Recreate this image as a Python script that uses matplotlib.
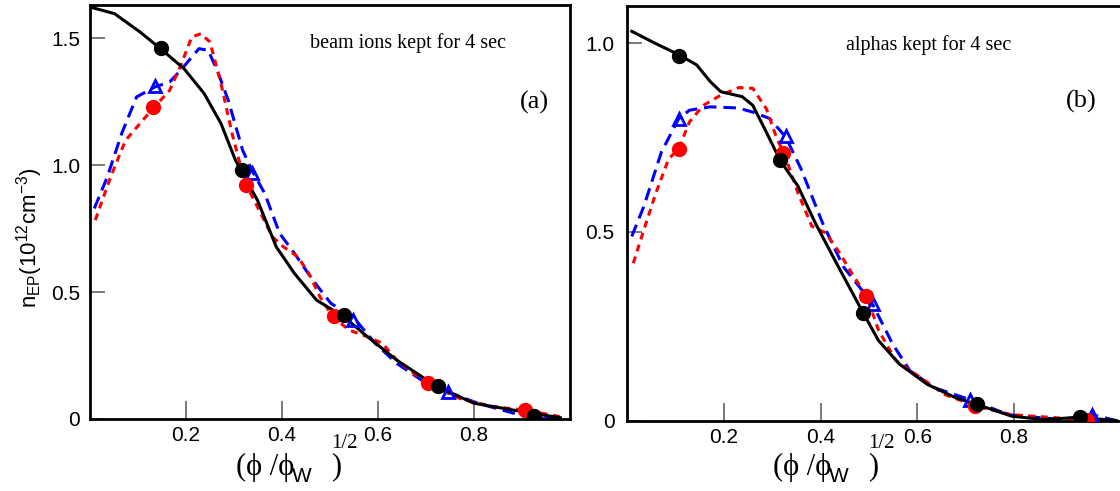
import numpy as np
import matplotlib.pyplot as plt

plt.rcParams['font.family'] = ['Liberation Sans', 'DejaVu Sans']
plt.rcParams['mathtext.default'] = 'regular'
plt.rcParams['lines.scale_dashes'] = False

# ---- panel (a): beam ions ----
a_blk_x = [0.0, 0.051, 0.104, 0.147, 0.196, 0.238, 0.273, 0.303, 0.314, 0.349, 0.388, 0.426,
           0.472, 0.529, 0.578, 0.639, 0.723, 0.80, 0.922, 0.98]
a_blk_y = [1.622, 1.596, 1.524, 1.458, 1.379, 1.281, 1.163, 1.019, 0.98, 0.861, 0.678, 0.573,
           0.468, 0.402, 0.324, 0.232, 0.127, 0.062, 0.022, 0.005]
a_red_x = [0.011, 0.043, 0.074, 0.104, 0.131, 0.166, 0.189, 0.212, 0.231, 0.25, 0.273, 0.296,
           0.314, 0.326, 0.349, 0.38, 0.403, 0.433, 0.456, 0.479, 0.506, 0.54, 0.578, 0.609,
           0.639, 0.701, 0.77, 0.838, 0.907, 0.98]
a_red_y = [0.783, 0.953, 1.097, 1.163, 1.222, 1.294, 1.392, 1.504, 1.517, 1.484, 1.32, 1.124,
           0.993, 0.92, 0.835, 0.717, 0.678, 0.639, 0.573, 0.481, 0.402, 0.35, 0.324, 0.298,
           0.232, 0.14, 0.081, 0.049, 0.035, 0.009]
a_blu_x = [0.009, 0.036, 0.066, 0.097, 0.135, 0.166, 0.189, 0.212, 0.227, 0.246, 0.265, 0.288,
           0.318, 0.337, 0.364, 0.395, 0.426, 0.464, 0.502, 0.548, 0.594, 0.639, 0.701, 0.743,
           0.808, 0.884, 0.926, 0.98]
a_blu_y = [0.829, 0.953, 1.124, 1.268, 1.307, 1.327, 1.373, 1.425, 1.458, 1.452, 1.373, 1.255,
           1.058, 0.98, 0.888, 0.731, 0.652, 0.547, 0.455, 0.402, 0.298, 0.219, 0.14, 0.108,
           0.062, 0.022, 0.0, 0.003]
a_blk_mx = [0.147, 0.316, 0.53, 0.725, 0.925]
a_blk_my = [1.46, 0.98, 0.41, 0.13, 0.01]
a_red_mx = [0.131, 0.326, 0.508, 0.705, 0.907]
a_red_my = [1.23, 0.92, 0.405, 0.14, 0.035]
a_blu_mx = [0.135, 0.337, 0.548, 0.745, 0.928]
a_blu_my = [1.31, 0.97, 0.39, 0.105, 0.0]

# ---- panel (b): alphas ----
b_blk_x = [0.0098, 0.057, 0.107, 0.144, 0.172, 0.194, 0.238, 0.26, 0.288, 0.317, 0.353, 0.389,
           0.433, 0.487, 0.52, 0.563, 0.621, 0.679, 0.723, 0.795, 0.86, 0.936, 1.012]
b_blk_y = [1.031, 1.0, 0.969, 0.942, 0.898, 0.871, 0.858, 0.835, 0.764, 0.688, 0.622, 0.524,
           0.417, 0.288, 0.212, 0.15, 0.096, 0.061, 0.043, 0.012, 0.003, 0.009, 0.0]
b_red_x = [0.013, 0.035, 0.06, 0.086, 0.107, 0.129, 0.158, 0.194, 0.231, 0.26, 0.288, 0.31,
           0.324, 0.353, 0.382, 0.411, 0.44, 0.469, 0.495, 0.52, 0.556, 0.607, 0.657, 0.723,
           0.795, 0.896, 0.95, 1.012]
b_red_y = [0.417, 0.506, 0.604, 0.693, 0.72, 0.791, 0.835, 0.862, 0.882, 0.88, 0.826, 0.746,
           0.711, 0.604, 0.515, 0.497, 0.443, 0.381, 0.332, 0.239, 0.159, 0.114, 0.069, 0.038,
           0.016, 0.007, 0.003, 0.0]
b_blu_x = [0.0098, 0.035, 0.071, 0.107, 0.129, 0.172, 0.23, 0.26, 0.295, 0.328, 0.36, 0.404,
           0.447, 0.491, 0.509, 0.549, 0.585, 0.636, 0.708, 0.788, 0.896, 0.961, 1.012]
b_blu_y = [0.488, 0.568, 0.711, 0.8, 0.822, 0.831, 0.828, 0.817, 0.8, 0.751, 0.666, 0.524,
           0.408, 0.337, 0.305, 0.203, 0.132, 0.087, 0.056, 0.016, 0.003, 0.016, 0.0]
b_blk_mx = [0.107, 0.317, 0.487, 0.723, 0.936]
b_blk_my = [0.965, 0.69, 0.285, 0.045, 0.01]
b_red_mx = [0.107, 0.323, 0.495, 0.72, 0.95]
b_red_my = [0.72, 0.71, 0.33, 0.04, 0.003]
b_blu_mx = [0.107, 0.328, 0.509, 0.708, 0.961]
b_blu_my = [0.80, 0.755, 0.31, 0.055, 0.016]

xticks = [0.2, 0.4, 0.6, 0.8]
xticklabels = ['0.2', '0.4', '0.6', '0.8']
a_yticks = [0, 0.5, 1.0, 1.5]
a_yticklabels = ['0', '0.5', '1.0', '1.5']
b_yticks = [0, 0.5, 1.0]
b_yticklabels = ['0', '0.5', '1.0']

RED = '#ff0000'
BLUE = '#0000ff'

fig = plt.figure(figsize=(11.2, 4.91), dpi=100)
W, H = 1120.0, 491.0
axa = fig.add_axes([90 / W, 1 - 419 / H, 480 / W, 414 / H])
axb = fig.add_axes([627 / W, 1 - 420.7 / H, 493 / W, 414.7 / H])


def draw(ax, bx, by, rx, ry, kx, ky, bmx, bmy, rmx, rmy, kmx, kmy):
    ax.plot(bx, by, color=BLUE, lw=2.2, dashes=(9, 5), zorder=2)
    ax.plot(rx, ry, color=RED, lw=2.2, dashes=(5, 4), zorder=3)
    ax.plot(kx, ky, color='black', lw=2.2, zorder=4)
    ax.plot(bmx, bmy, ls='none', marker='^', ms=8, mfc='none', mec=BLUE, mew=2, zorder=5)
    ax.plot(rmx, rmy, ls='none', marker='o', ms=10, color=RED, zorder=5)
    ax.plot(kmx, kmy, ls='none', marker='o', ms=10, color='black', zorder=6)
    ax.set_xticks(xticks)
    ax.set_xticklabels(xticklabels)
    ax.tick_params(axis='x', direction='in', length=13, width=1.1, color='#555555',
                   labelsize=15, pad=5)
    ax.tick_params(axis='y', direction='in', length=11, width=1.1, color='#555555',
                   labelsize=15, pad=7)
    for s in ax.spines.values():
        s.set_linewidth(2)


draw(axa, a_blu_x, a_blu_y, a_red_x, a_red_y, a_blk_x, a_blk_y,
     a_blu_mx, a_blu_my, a_red_mx, a_red_my, a_blk_mx, a_blk_my)
axa.set_xlim(0, 1.0)
axa.set_ylim(0, 1.63)
axa.set_yticks(a_yticks)
axa.set_yticklabels(a_yticklabels)
axa.text(0.458, 1.48, 'beam ions kept for 4 sec', family='Liberation Serif', fontsize=14.5,
         va='center', ha='left')
axa.text(0.895, 1.248, '(a)', family='Liberation Serif', fontsize=19, va='center', ha='left')

draw(axb, b_blu_x, b_blu_y, b_red_x, b_red_y, b_blk_x, b_blk_y,
     b_blu_mx, b_blu_my, b_red_mx, b_red_my, b_blk_mx, b_blk_my)
axb.set_xlim(0, 1.019)
axb.set_ylim(0, 1.098)
axb.set_yticks(b_yticks)
axb.set_yticklabels(b_yticklabels)
axb.tick_params(axis='y', pad=9)
axb.spines['right'].set_visible(False)
axb.text(0.452, 0.995, 'alphas kept for 4 sec', family='Liberation Serif', fontsize=14.5,
         va='center', ha='left')
axb.text(0.907, 0.844, '(b)', family='Liberation Serif', fontsize=19, va='center', ha='left')

# y label
fig.text(30 / W, 1 - 238 / H, r'n$_{EP}$(10$^{12}$cm$^{-3}$)', rotation=90,
         fontsize=16, ha='center', va='center')

# x labels
for x0 in (236, 773):
    fig.text(x0 / W, 1 - 467 / H, '(ϕ /ϕ', family='Liberation Serif', fontsize=22,
             ha='left', va='center')
    fig.text((x0 + 56) / W, 1 - 477 / H, 'W', fontsize=15, ha='left', va='center')
    fig.text((x0 + 95) / W, 1 - 467 / H, ')', family='Liberation Serif', fontsize=22,
             ha='left', va='center')
    fig.text((x0 + 95) / W, 1 - 443 / H, '1/2', family='Liberation Serif', fontsize=15,
             ha='left', va='center')

fig.savefig('out.png', dpi=100)
